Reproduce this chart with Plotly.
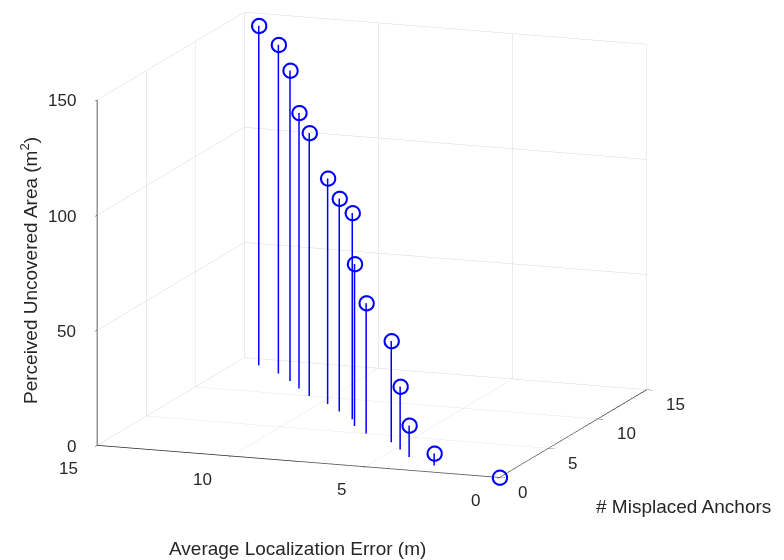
import plotly.graph_objects as go
import math

# Data (stem3 plot)
loc_error = [14.1, 13.0, 12.2, 11.5, 10.75, 9.7, 8.9, 8.05, 7.6, 6.8, 5.5, 4.8, 4.1, 2.8, 0.0]
misplaced = [14, 13, 12, 11, 10, 9, 8, 7, 6, 5, 4, 3, 2, 1, 0]
area = [147.5, 142.8, 134.9, 119.7, 114.2, 98.0, 92.5, 89.6, 70.4, 56.7, 44.0, 27.4, 13.7, 5.3, 0.0]

x_ticks = [0, 5, 10, 15]
y_ticks = [0, 5, 10, 15]
z_ticks = [0, 50, 100, 150]

BLUE = "rgb(0,0,255)"
DARK = "rgb(38,38,38)"
FONT = "Liberation Sans, Arial"

# stems
sx, sy, sz = [], [], []
for xv, yv, zv in zip(loc_error, misplaced, area):
    sx += [xv, xv, None]
    sy += [yv, yv, None]
    sz += [0, zv, None]

fig = go.Figure()
fig.add_trace(go.Scatter3d(x=sx, y=sy, z=sz, mode="lines",
                           line=dict(color=BLUE, width=3),
                           hoverinfo="skip", showlegend=False))
fig.add_trace(go.Scatter3d(x=loc_error, y=misplaced, z=area, mode="markers",
                           marker=dict(symbol="circle-open", size=9, color=BLUE,
                                       line=dict(color=BLUE, width=1)),
                           showlegend=False))

axis_common = dict(
    showbackground=False,
    gridcolor="rgb(215,215,215)",
    gridwidth=1,
    showline=True,
    linecolor=DARK,
    linewidth=1.5,
    ticks="outside",
    ticklen=6,
    tickcolor=DARK,
    showticklabels=False,
    zeroline=False,
    showspikes=False,
    title=dict(text=""),
)

az = math.radians(20.1)
el = math.radians(12.6)
r = 1.8
d = (math.cos(el) * math.sin(az), -math.cos(el) * math.cos(az), math.sin(el))
center = (0.0767, -0.0011, -0.1226)
eye = dict(x=center[0] + r * d[0], y=center[1] + r * d[1], z=center[2] + r * d[2])

def paper(px, py):
    return px / 784, 1 - py / 560

annotations = []
for text, (px, py), ang in [
    ("Average Localization Error (m)", (297.5, 548), 0),
    ("# Misplaced Anchors", (683.5, 506), 0),
    ("Perceived Uncovered Area (m<sup>2</sup>)", (29, 271), -90),
]:
    ax_, ay_ = paper(px, py)
    annotations.append(dict(text=text, x=ax_, y=ay_, xref="paper", yref="paper",
                            xanchor="center", yanchor="middle", showarrow=False,
                            textangle=ang, font=dict(family=FONT, size=19, color=DARK)))

# tick labels as scene annotations
tick_font = dict(family=FONT, size=17, color=DARK)
scene_ann = []
for v in x_ticks:
    scene_ann.append(dict(x=v, y=0, z=0, text=str(v), showarrow=False,
                          xanchor="right", yanchor="middle", xshift=-17, yshift=-23,
                          font=tick_font))
for v in y_ticks:
    scene_ann.append(dict(x=0, y=v, z=0, text=str(v), showarrow=False,
                          xanchor="left", yanchor="middle", xshift=17, yshift=-15,
                          font=tick_font))
for v in z_ticks:
    scene_ann.append(dict(x=15, y=0, z=v, text=str(v), showarrow=False,
                          xanchor="right", yanchor="middle", xshift=-19, yshift=-1,
                          font=tick_font))

fig.update_layout(
    width=784, height=560,
    margin=dict(l=0, r=0, t=0, b=0),
    paper_bgcolor="white",
    font=dict(family=FONT, size=16, color=DARK),
    annotations=annotations,
    scene=dict(
        domain=dict(x=[0, 1], y=[0, 1]),
        xaxis=dict(axis_common, range=[15, 0], tickvals=x_ticks),
        yaxis=dict(axis_common, range=[0, 15], tickvals=y_ticks),
        zaxis=dict(axis_common, range=[0, 150], tickvals=z_ticks),
        aspectmode="manual",
        aspectratio=dict(x=1.53, y=1.53, z=1.264),
        annotations=scene_ann,
        camera=dict(eye=eye, center=dict(x=center[0], y=center[1], z=center[2]),
                    up=dict(x=0, y=0, z=1),
                    projection=dict(type="orthographic")),
    ),
)

fig.write_html("out.html")
